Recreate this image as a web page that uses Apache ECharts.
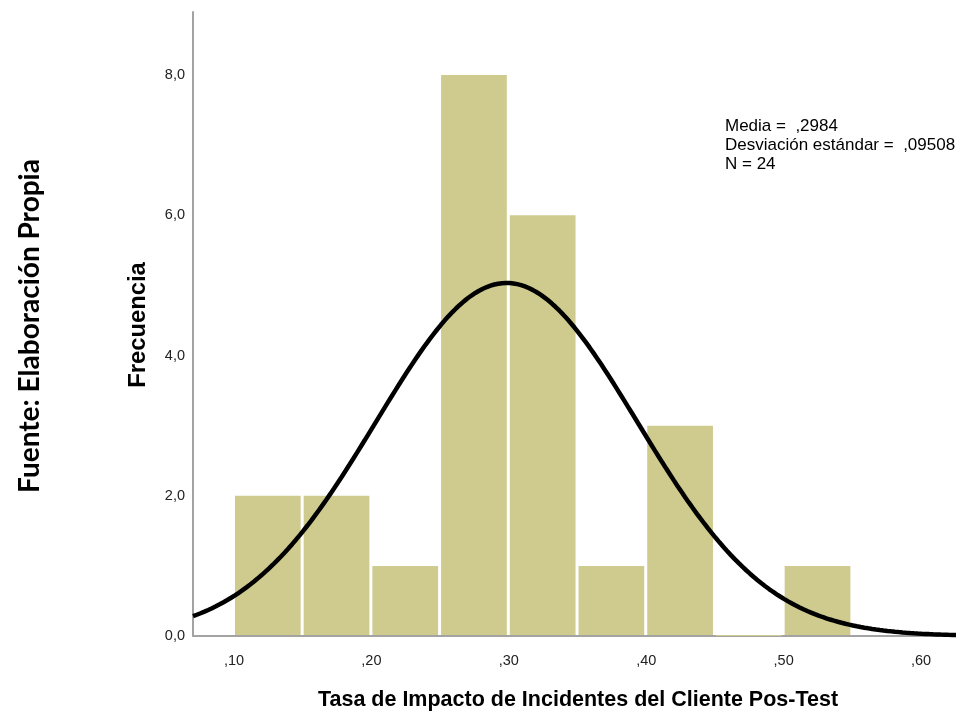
<!DOCTYPE html>
<html>
<head>
<meta charset="utf-8">
<script src="https://cdn.jsdelivr.net/npm/echarts@6/dist/echarts.min.js"></script>
<style>
  html, body { margin: 0; padding: 0; background: #fff; }
  #chart { width: 956px; height: 716px; }
</style>
</head>
<body>
<div id="chart"></div>
<script>
// Histogram bins (lower edge, upper edge) and frequencies
const binStarts = [0.10, 0.15, 0.20, 0.25, 0.30, 0.35, 0.40, 0.45, 0.50];
const binEnds   = [0.15, 0.20, 0.25, 0.30, 0.35, 0.40, 0.45, 0.50, 0.55];
const counts    = [2, 2, 1, 8, 6, 1, 3, 0, 1];

// Summary statistics shown in the annotation
const MEAN = 0.2984;
const SD = 0.09508;
const N = 24;
const BIN_WIDTH = 0.05;

// Axis tick labels
const xTicks = [0.10, 0.20, 0.30, 0.40, 0.50, 0.60];
const yTicks = [0, 2, 4, 6, 8];

const X_MIN = 0.0702, X_MAX = 0.6254;

// Fitted normal curve scaled to frequency counts
const curve = [];
for (let i = 0; i <= 200; i++) {
  const x = X_MIN + (X_MAX - X_MIN) * i / 200;
  const z = (x - MEAN) / SD;
  const y = N * BIN_WIDTH * Math.exp(-0.5 * z * z) / (SD * Math.sqrt(2 * Math.PI));
  curve.push([x, y]);
}

const barData = binStarts.map((s, i) => [s, binEnds[i], counts[i]]);

const chart = echarts.init(document.getElementById('chart'), null, { renderer: 'canvas' });
const axisGray = '#a3a3a3';
const labelFont = 'Liberation Sans, Arial, sans-serif';

chart.setOption({
  animation: false,
  backgroundColor: '#ffffff',
  grid: { left: 193, right: 0, top: 12, bottom: 80, containLabel: false },
  xAxis: {
    type: 'value',
    min: X_MIN,
    max: X_MAX,
    axisLine: { show: true, onZero: false, lineStyle: { color: axisGray, width: 2 } },
    axisTick: { show: false },
    splitLine: { show: false },
    axisLabel: {
      customValues: xTicks,
      formatter: v => ',' + Math.round(v * 100),
      color: '#222',
      fontFamily: labelFont,
      fontSize: 14.5,
      margin: 17
    }
  },
  yAxis: {
    type: 'value',
    min: 0,
    max: 8.9,
    axisLine: { show: true, lineStyle: { color: axisGray, width: 2 } },
    axisTick: { show: false },
    splitLine: { show: false },
    axisLabel: {
      customValues: yTicks,
      formatter: v => v.toFixed(1).replace('.', ','),
      color: '#222',
      fontFamily: labelFont,
      fontSize: 14.5,
      margin: 8
    }
  },
  series: [
    {
      type: 'custom',
      data: barData,
      encode: { x: [0, 1], y: 2 },
      renderItem: function (params, api) {
        const top = api.coord([api.value(0), api.value(2)]);
        const bottom = api.coord([api.value(1), 0]);
        return {
          type: 'rect',
          shape: {
            x: top[0] + 1,
            y: top[1],
            width: bottom[0] - top[0] - 3,
            height: bottom[1] - top[1] - 1
          },
          style: { fill: '#cfca8e' }
        };
      },
      z: 2
    },
    {
      type: 'line',
      data: curve,
      showSymbol: false,
      smooth: false,
      lineStyle: { color: '#000', width: 4.5 },
      z: 3
    }
  ],
  graphic: [
    {
      type: 'text',
      left: 725,
      top: 117,
      style: {
        text: 'Media =  ,2984\nDesviación estándar =  ,09508\nN = 24',
        font: '17px ' + labelFont,
        fill: '#000',
        lineHeight: 19
      }
    },
    {
      type: 'text',
      x: 138,
      y: 325,
      rotation: Math.PI / 2,
      style: {
        text: 'Frecuencia',
        font: 'bold 23.8px ' + labelFont,
        fill: '#000',
        align: 'center',
        verticalAlign: 'middle'
      }
    },
    {
      type: 'text',
      x: 578,
      y: 700,
      style: {
        text: 'Tasa de Impacto de Incidentes del Cliente Pos-Test',
        font: 'bold 21.5px ' + labelFont,
        fill: '#000',
        align: 'center',
        verticalAlign: 'middle'
      }
    },
    {
      type: 'text',
      x: 30,
      y: 326,
      rotation: Math.PI / 2,
      style: {
        text: 'Fuente: Elaboración Propia',
        font: 'bold 28px Lato, "Open Sans", sans-serif',
        fill: '#000',
        align: 'center',
        verticalAlign: 'middle'
      }
    }
  ]
});
</script>
</body>
</html>
